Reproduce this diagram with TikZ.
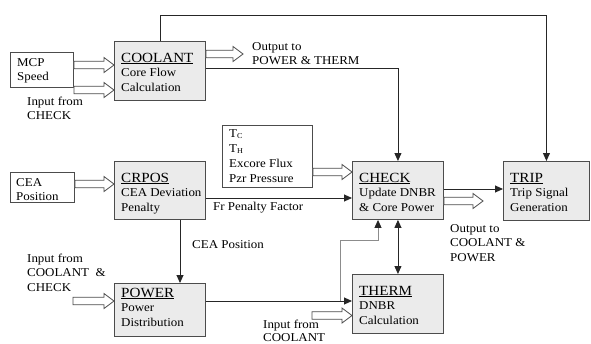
\documentclass[tikz,border=0pt]{standalone}
\usepackage{fontspec}
\setmainfont[FakeStretch=1.08]{Liberation Serif}
\usetikzlibrary{calc,arrows.meta}
\newcommand\mystack[1]{\vtop{\baselineskip=14.5pt #1}}
\newcommand\mystackb[1]{\vtop{\baselineskip=15pt #1}}
\newcommand\boxtitle[1]{\hbox{\fontsize{14}{14.5}\selectfont\underline{#1}}}
\newcommand\sub[1]{\raisebox{-1.5pt}{\fontsize{7.5}{8}\selectfont #1}}
\tikzset{
 box/.style={draw=black!70, fill=black!8, line width=0.9pt, anchor=north west, inner sep=0pt},
 wbox/.style={draw=black!70, fill=white, line width=0.9pt, anchor=north west, inner sep=0pt},
 txt/.style={anchor=base west, inner sep=0pt, font=\fontsize{12}{14.5}\selectfont},
 tip/.style={-{Triangle[length=8pt,width=7pt]}},
 conn/.style={draw=black!85, line width=0.9pt, tip},
 hollow/.style={draw=black!70, fill=white, line width=0.8pt,
   to path={let \p1=(\tikztostart), \p2=(\tikztotarget) in
     (\x1,\y1+3.8pt) -- (\x2-10pt,\y1+3.8pt) -- (\x2-10pt,\y1+7.5pt) -- (\x2,\y1)
     -- (\x2-10pt,\y1-7.5pt) -- (\x2-10pt,\y1-3.8pt) -- (\x1,\y1-3.8pt) -- cycle}},
}
\begin{document}
\begin{tikzpicture}[x=1pt,y=-1pt]
\useasboundingbox (0,0) rectangle (591,343);
% boxes
\node[box, minimum width=91pt, minimum height=59pt] (coolant) at (114,41) {};
\node[box, minimum width=91pt, minimum height=58pt] (crpos) at (114,161) {};
\node[box, minimum width=91pt, minimum height=53pt] (power) at (114,283) {};
\node[box, minimum width=91pt, minimum height=58pt] (check) at (352,161) {};
\node[box, minimum width=86pt, minimum height=59pt] (trip) at (503,161) {};
\node[box, minimum width=91pt, minimum height=59pt] (therm) at (352,274) {};
\node[wbox, minimum width=63pt, minimum height=35pt] (mcp) at (10,52) {};
\node[wbox, minimum width=64pt, minimum height=30pt] (cea) at (10,172) {};
\node[wbox, minimum width=90pt, minimum height=62pt] (sens) at (222,125) {};
% coordinates
\coordinate (cOut) at (243,54);
\coordinate (chkOut) at (483,201);
\coordinate (pIn) at (73,301);
\coordinate (tIn) at (312,315.5);
\coordinate (split) at (340,301);
\coordinate (bend) at (378,240);
% solid connectors
\draw[conn] (coolant.north) -- (coolant.north |- 0,15) -| (trip.north);
\draw[conn] (coolant.east |- 0,68) -| (check.north);
\draw[conn] (crpos.east |- 0,198) -- (check.west |- 0,198);
\draw[conn] (crpos.south -| 180,0) -- (power.north -| 180,0);
\draw[conn] (check.east |- 0,189) -- (trip.west |- 0,189);
\draw[conn] (power.east |- 0,301) -- (therm.west |- 0,301);
\draw[draw=black!45, line width=0.9pt, -{Triangle[length=8pt,width=7pt,color=black!85]}] (split) |- (bend) -- (bend |- check.south);
\draw[conn, {Triangle[length=8pt,width=7pt]}-{Triangle[length=8pt,width=7pt]}] (check.south) -- (therm.north);
% hollow arrows
\draw[hollow] (mcp.east |- 0,65) to (coolant.west |- 0,65);
\draw[hollow] (mcp.east |- 0,90) to (coolant.west |- 0,90);
\draw[hollow] (coolant.east |- 0,54) to (cOut);
\draw[hollow] (cea.east |- 0,184) to (crpos.west |- 0,184);
\draw[hollow] (sens.east |- 0,172) to (check.west |- 0,172);
\draw[hollow] (check.east |- 0,201) to (chkOut);
\draw[hollow] (pIn) to (power.west |- 0,301);
\draw[hollow] (tIn) to (therm.west |- 0,315.5);
% box texts
\node[txt] (coolantT) at (121,62) {\mystack{\boxtitle{COOLANT}\hbox{Core Flow}\hbox{Calculation}}};
\node[txt] (crposT) at (121,182) {\mystack{\boxtitle{CRPOS}\hbox{CEA Deviation}\hbox{Penalty}}};
\node[txt] (powerT) at (121,297) {\mystack{\boxtitle{POWER}\hbox{Power}\hbox{Distribution}}};
\node[txt] (checkT) at (359,182) {\mystack{\boxtitle{CHECK}\hbox{Update DNBR}\hbox{\& Core Power}}};
\node[txt] (tripT) at (510,182) {\mystack{\boxtitle{TRIP}\hbox{Trip Signal}\hbox{Generation}}};
\node[txt] (thermT) at (359,295) {\mystack{\boxtitle{THERM}\hbox{DNBR}\hbox{Calculation}}};
\node[txt] (mcpT) at (17,66) {\mystack{\hbox{MCP}\hbox{Speed}}};
\node[txt] (ceaT) at (16,186) {\mystack{\hbox{CEA}\hbox{Position}}};
\node[txt] (sensT) at (229,137) {\mystackb{\hbox{T\sub{C}}\hbox{T\sub{H}}\hbox{Excore Flux}\hbox{Pzr Pressure}}};
% free labels
\node[txt] (l1) at (27,105) {\mystack{\hbox{Input from}\hbox{CHECK}}};
\node[txt] (l2) at (252,50) {\mystack{\hbox{Output to}\hbox{POWER \& THERM}}};
\node[txt] (l3) at (213,210) {Fr Penalty Factor};
\node[txt] (l4) at (192,248) {CEA Position};
\node[txt] (l5) at (27,262) {\mystack{\hbox{Input from}\hbox{COOLANT \ \&}\hbox{CHECK}}};
\node[txt] (l6) at (450,232) {\mystack{\hbox{Output to}\hbox{COOLANT \&}\hbox{POWER}}};
\node[txt] (l7) at (263,328.5) {\vtop{\baselineskip=12.5pt \hbox{Input from}\hbox{COOLANT}}};
\end{tikzpicture}
\end{document}
